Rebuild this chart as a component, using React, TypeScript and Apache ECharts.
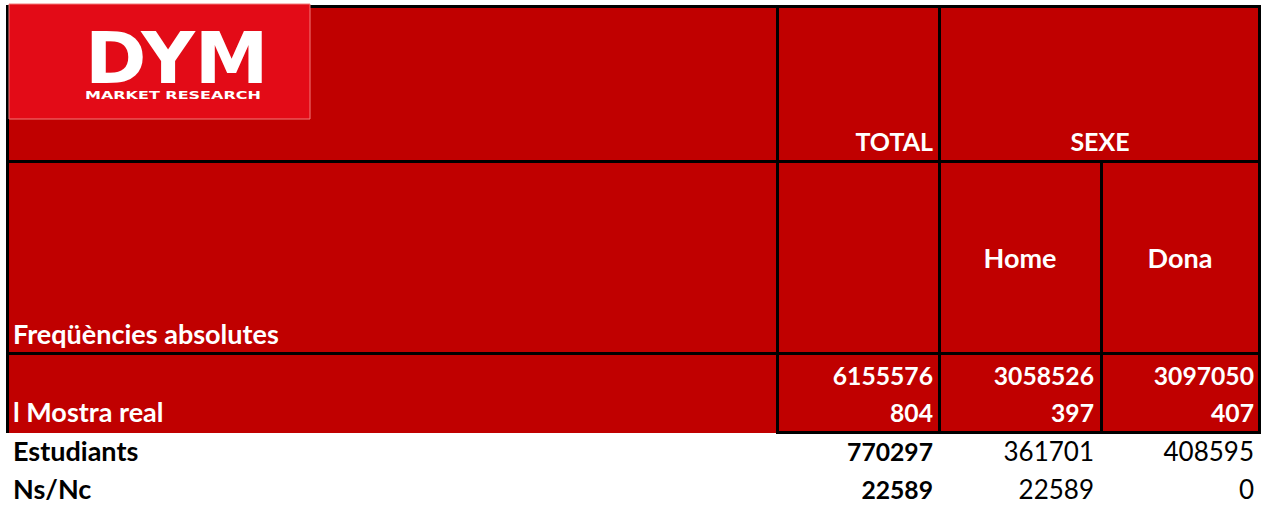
import React, { useEffect, useRef } from "react";
import * as echarts from "echarts";

// ---- data ----
const logoTitle = "DYM";
const logoSubtitle = "MARKET RESEARCH";
const tableTitle = "Freqüències absolutes";
const groupHeaders = ["TOTAL", "SEXE"];
const subHeaders = ["Home", "Dona"];
const universeLabel = "";
const sampleLabel = "l Mostra real";
const universeValues = [6155576, 3058526, 3097050];
const sampleValues = [804, 397, 407];
const rowLabels = ["Estudiants", "Ns/Nc"];
const estudiantsValues = [770297, 361701, 408595];
const nsncValues = [22589, 22589, 0];

const RED = "#c00000";
const LOGO_RED = "#e30b17";
const FONT = "Lato";

export default function App() {
  const ref = useRef<HTMLDivElement>(null);
  useEffect(() => {
    if (!ref.current) return;
    const chart = echarts.init(ref.current, undefined, { renderer: "svg" });

    const colRight = [933, 1094, 1254];
    const colCenter = [858, 1020, 1180];
    const els: any[] = [];
    // red background
    els.push({ type: "rect", shape: { x: 9, y: 6, width: 1250, height: 427 }, style: { fill: RED } });
    // borders
    const lines: number[][] = [
      [6, 5, 1255, 3], // top
      [6, 5, 3, 428], // left
      [776, 5, 3, 428],
      [938, 5, 3, 428],
      [1258, 5, 3, 428],
      [1100, 161, 3, 272],
      [6, 160, 1255, 3],
      [6, 352, 1255, 3],
      [776, 431, 485, 3],
    ];
    lines.forEach(([x, y, w, h]) => els.push({ type: "rect", shape: { x, y, width: w, height: h }, style: { fill: "#000" } }));

    // logo
    els.push({ type: "rect", shape: { x: 9, y: 4, width: 301, height: 115 }, style: { fill: LOGO_RED, stroke: "#f27a7a", lineWidth: 1 } });
    els.push({
      type: "text", x: 85, y: 22, scaleX: 1.03,
      style: { text: logoTitle, fill: "#fff", font: `bold 72px "DejaVu Sans"`, textAlign: "left", verticalAlign: "top" },
    });
    els.push({
      type: "text", x: 85, y: 90.5, scaleX: 1.6,
      style: { text: logoSubtitle, fill: "#fff", font: `bold 10px "DejaVu Sans"`, textAlign: "left", verticalAlign: "top" },
    });

    const txt = (s: string, x: number, baseline: number, align: string, bold: boolean, size: number, color = "#fff") =>
      els.push({
        type: "text", x, y: baseline - 0.92 * size + (size >= 26 ? 2 : size > 24 && size < 25 ? 2 : 0),
        style: { text: s, fill: color, font: `${bold ? "bold " : ""}${size}px ${FONT}`, textAlign: align, verticalAlign: "top" },
      });

    // headers
    txt(groupHeaders[0], colRight[0], 151, "right", true, 25);
    txt(groupHeaders[1], (colCenter[1] + colCenter[2]) / 2, 151, "center", true, 25);
    txt(subHeaders[0], colCenter[1], 267, "center", true, 27);
    txt(subHeaders[1], colCenter[2], 267, "center", true, 27);
    txt(tableTitle, 13, 343, "left", true, 27);
    txt(universeLabel, 13, 384, "left", true, 27);
    txt(sampleLabel, 13, 421, "left", true, 27);
    universeValues.forEach((v, i) => txt(String(v), colRight[i], 384, "right", true, 24.7));
    sampleValues.forEach((v, i) => txt(String(v), colRight[i], 421, "right", true, 24.7));

    const bodyRows = [estudiantsValues, nsncValues];
    const bodyBase = [460, 498];
    bodyRows.forEach((row, r) => {
      txt(rowLabels[r], 13, bodyBase[r], "left", true, 27, "#000");
      row.forEach((v, i) => txt(String(v), colRight[i], bodyBase[r], "right", i === 0, i === 0 ? 24.7 : 26, "#000"));
    });

    chart.setOption({ animation: false, graphic: { elements: els } });
    return () => chart.dispose();
  }, []);
  return <div ref={ref} style={{ position: "fixed", left: 0, top: 0, width: 1261, height: 505, background: "#fff" }} />;
}
